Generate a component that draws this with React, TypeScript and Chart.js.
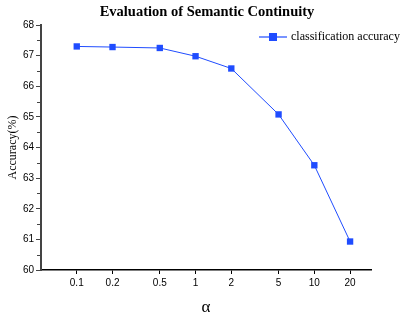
import React, { useEffect, useRef } from "react";
import { Chart, registerables } from "chart.js";

Chart.register(...registerables);

const alphas = [0.1, 0.2, 0.5, 1, 2, 5, 10, 20];
const accuracy = [67.3, 67.28, 67.25, 66.98, 66.58, 65.08, 63.42, 60.93];
const yTicks = [60, 61, 62, 63, 64, 65, 66, 67, 68];
const seriesLabel = "classification accuracy";
const chartTitle = "Evaluation of Semantic Continuity";
const xTitle = "α";
const yTitle = "Accuracy(%)";

const BLUE = "#1f4cff";

const overlayPlugin = {
  id: "overlay",
  afterDraw(chart: any) {
    const ctx = chart.ctx;
    const y = chart.scales.y;
    const area = chart.chartArea;
    ctx.save();
    // minor ticks
    ctx.strokeStyle = "#444";
    ctx.lineWidth = 1;
    for (let v = yTicks[0] + 0.5; v < yTicks[yTicks.length - 1]; v += 1) {
      const py = Math.round(y.getPixelForValue(v)) + 0.5;
      ctx.beginPath();
      ctx.moveTo(area.left - 4, py);
      ctx.lineTo(area.left, py);
      ctx.stroke();
    }
    // title
    ctx.fillStyle = "#000";
    ctx.font = "bold 14.5px 'Liberation Serif', 'Times New Roman', serif";
    ctx.textAlign = "center";
    ctx.textBaseline = "middle";
    ctx.fillText(chartTitle, 207, 12);
    // legend
    const ly = 37;
    ctx.strokeStyle = BLUE;
    ctx.lineWidth = 1.2;
    ctx.beginPath();
    ctx.moveTo(259, ly);
    ctx.lineTo(287, ly);
    ctx.stroke();
    ctx.fillStyle = BLUE;
    ctx.fillRect(269, ly - 4, 8, 8);
    ctx.fillStyle = "#000";
    ctx.font = "12px 'Liberation Serif', 'Times New Roman', serif";
    ctx.textAlign = "left";
    ctx.fillText(seriesLabel, 291, ly);
    ctx.restore();
  },
};

export default function App() {
  const ref = useRef<HTMLCanvasElement>(null);
  useEffect(() => {
    document.body.style.margin = "0";
    const chart = new Chart(ref.current!, {
      type: "line",
      data: {
        datasets: [
          {
            label: seriesLabel,
            data: alphas.map((a, i) => ({ x: a, y: accuracy[i] })),
            borderColor: BLUE,
            backgroundColor: BLUE,
            borderWidth: 1,
            pointStyle: "rect",
            pointRadius: 4.5,
            pointBorderWidth: 0,
          },
        ],
      },
      options: {
        animation: false,
        responsive: false,
        maintainAspectRatio: false,
        layout: { padding: { left: 0, right: 36, top: 25, bottom: 0 } },
        plugins: { legend: { display: false }, title: { display: false }, tooltip: { enabled: false } },
        scales: {
          x: {
            type: "logarithmic",
            min: 0.05,
            max: 30,
            afterBuildTicks: (s: any) => {
              s.ticks = alphas.map((v) => ({ value: v }));
            },
            afterFit: (s: any) => {
              s.height = 48;
            },
            ticks: {
              autoSkip: false,
              maxRotation: 0,
              padding: 3,
              color: "#000",
              font: { family: "'Liberation Sans', Arial, sans-serif", size: 10 },
              callback: (v: any) => String(v),
            },
            grid: { drawOnChartArea: false, tickLength: 4, color: "#000", tickColor: "#000" },
            border: { color: "#000", width: 1.5 },
            title: {
              display: true,
              text: xTitle,
              color: "#000",
              font: { family: "'Liberation Serif', 'Times New Roman', serif", size: 17 },
              padding: { top: 6, bottom: 0 },
            },
          },
          y: {
            min: 60,
            max: 68,
            afterBuildTicks: (s: any) => {
              s.ticks = yTicks.map((v) => ({ value: v }));
            },
            afterFit: (s: any) => {
              s.width = 41;
            },
            ticks: {
              color: "#000",
              padding: 2,
              font: { family: "'Liberation Sans', Arial, sans-serif", size: 10 },
            },
            grid: { drawOnChartArea: false, tickLength: 5, color: "#444", tickColor: "#444" },
            border: { color: "#444", width: 2 },
            title: {
              display: true,
              text: yTitle,
              color: "#000",
              font: { family: "'Liberation Serif', 'Times New Roman', serif", size: 12 },
              padding: { top: 6, bottom: 0 },
            },
          },
        },
      },
      plugins: [overlayPlugin],
    } as any);
    return () => chart.destroy();
  }, []);
  return (
    <div style={{ position: "fixed", left: 0, top: 0, width: 407, height: 318, background: "#fff" }}>
      <canvas ref={ref} width={407} height={318} style={{ width: 407, height: 318 }} />
    </div>
  );
}
